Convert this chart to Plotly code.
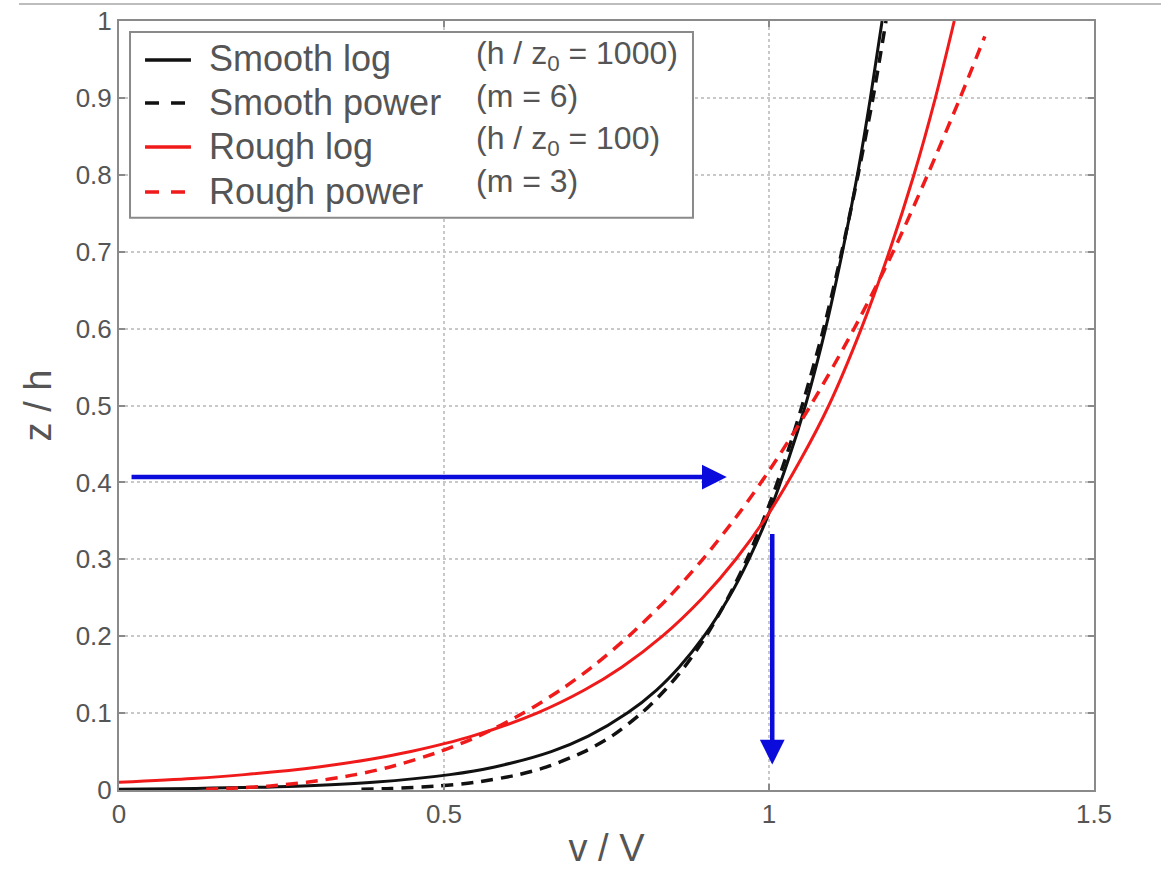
import plotly.graph_objects as go

# ---- data ----
smooth_log_x = [0.0, 0.118, 0.273, 0.391, 0.509, 0.578, 0.665, 0.722, 0.782, 0.827, 0.862, 0.900,
                0.938, 0.969, 1.000, 1.030, 1.056, 1.087, 1.113, 1.136, 1.156, 1.174]
smooth_log_y = [0.001, 0.002, 0.005, 0.01, 0.02, 0.03, 0.05, 0.07, 0.1, 0.13, 0.16, 0.2,
                0.25, 0.3, 0.36, 0.43, 0.5, 0.6, 0.7, 0.8, 0.9, 1.0]

smooth_pow_x = [0.373, 0.419, 0.488, 0.548, 0.615, 0.658, 0.716, 0.758, 0.804, 0.840, 0.870, 0.903,
                0.937, 0.966, 1.000, 1.025, 1.051, 1.084, 1.112, 1.137, 1.160, 1.180]
smooth_pow_y = [0.001, 0.002, 0.005, 0.01, 0.02, 0.03, 0.05, 0.07, 0.1, 0.13, 0.16, 0.2,
                0.25, 0.3, 0.37, 0.43, 0.5, 0.6, 0.7, 0.8, 0.9, 1.0]

rough_log_x = [0.0, 0.113, 0.193, 0.307, 0.387, 0.449, 0.543, 0.643, 0.716, 0.774, 0.836, 0.898,
               0.949, 1.000, 1.049, 1.092, 1.142, 1.185, 1.223, 1.256, 1.285]
rough_log_y = [0.01, 0.015, 0.02, 0.03, 0.04, 0.05, 0.07, 0.1, 0.13, 0.16, 0.2, 0.25,
               0.3, 0.36, 0.43, 0.5, 0.6, 0.7, 0.8, 0.9, 1.0]

rough_pow_x = [0.134, 0.169, 0.229, 0.289, 0.364, 0.417, 0.494, 0.553, 0.622, 0.679, 0.728, 0.784,
               0.845, 0.898, 0.954, 1.000, 1.064, 1.131, 1.191, 1.244, 1.294, 1.332]
rough_pow_y = [0.001, 0.002, 0.005, 0.01, 0.02, 0.03, 0.05, 0.07, 0.1, 0.13, 0.16, 0.2,
               0.25, 0.3, 0.36, 0.415, 0.5, 0.6, 0.7, 0.8, 0.9, 0.98]

series_names = ["Smooth log", "Smooth power", "Rough log", "Rough power"]
legend_notes = ["(h / z<sub>0</sub> = 1000)", "(m = 6)", "(h / z<sub>0</sub> = 100)", "(m = 3)"]

x_ticks = [0, 0.5, 1, 1.5]
x_tick_text = ["0", "0.5", "1", "1.5"]
y_ticks = [0, 0.1, 0.2, 0.3, 0.4, 0.5, 0.6, 0.7, 0.8, 0.9, 1]
y_tick_text = ["0", "0.1", "0.2", "0.3", "0.4", "0.5", "0.6", "0.7", "0.8", "0.9", "1"]

# arrows: (tail, head) in data units
h_arrow = {"tail": (0.017, 0.407), "head": (0.935, 0.407)}
v_arrow = {"tail": (1.005, 0.335), "head": (1.005, 0.033)}

FONT = "Liberation Sans, Arial, Helvetica, sans-serif"
BLACK = "#111111"
RED = "#f01a1a"
BLUE = "#0b0bdc"
AXIS = "#8a8a8a"
TXT = "#555555"

styles = [
    dict(color=BLACK, width=3),
    dict(color=BLACK, width=3.5, dash="12px,8px"),
    dict(color=RED, width=3),
    dict(color=RED, width=3.5, dash="12px,8px"),
]
xs = [smooth_log_x, smooth_pow_x, rough_log_x, rough_pow_x]
ys = [smooth_log_y, smooth_pow_y, rough_log_y, rough_pow_y]

fig = go.Figure()
for name, x, y, st in zip(series_names, xs, ys, styles):
    fig.add_trace(go.Scatter(x=x, y=y, mode="lines", name=name, showlegend=False,
                             line=dict(shape="spline", smoothing=0.8, **st)))

axis_common = dict(
    showline=True, linecolor=AXIS, linewidth=2, mirror="ticks",
    ticks="inside", ticklen=6, tickwidth=2, tickcolor=AXIS,
    showgrid=True, gridcolor="#c8c8c8", gridwidth=1.5, griddash="dot",
    zeroline=False, ticklabeloverflow="allow", automargin=False,
    tickfont=dict(family=FONT, size=26, color=TXT),
)

fig.update_xaxes(range=[0, 1.5], tickvals=x_ticks, ticktext=x_tick_text,
                 title=dict(text="v / V", font=dict(family=FONT, size=38, color=TXT), standoff=6),
                 **axis_common)
fig.update_yaxes(range=[0, 1], tickvals=y_ticks, ticktext=y_tick_text,
                 title=dict(text="z / h", font=dict(family=FONT, size=38, color=TXT), standoff=12),
                 **axis_common)

# legend box (white, gray border) that also hides the grid beneath it
fig.add_shape(type="rect", xref="paper", yref="paper", x0=0.0113, x1=0.5887, y0=0.744, y1=0.9857,
              line=dict(color=AXIS, width=2), fillcolor="white", layer="above")
# thin gray line at the very top of the picture
fig.add_shape(type="line", xref="paper", yref="paper", x0=-0.1026, x1=1.07, y0=1.0221, y1=1.0221,
              line=dict(color="#bdbdbd", width=2))

# legend entries: key line + label
key_y = [0.9493, 0.8934, 0.8362, 0.7776]
label_y = [0.9506, 0.8934, 0.8362, 0.7789]
for name, st, ky, ly in zip(series_names, styles, key_y, label_y):
    key_line = dict(color=st["color"], width=3.5)
    if "dash" in st:
        key_line["dash"] = "14px,12px"
    fig.add_shape(type="line", xref="paper", yref="paper", x0=0.0267, x1=0.0738, y0=ky, y1=ky,
                  line=key_line, layer="above")
    fig.add_annotation(text=name, xref="paper", yref="paper", x=0.0903, y=ly,
                       xanchor="left", yanchor="middle", showarrow=False,
                       font=dict(family=FONT, size=36, color=TXT))

note_y = [0.9545, 0.902, 0.844, 0.792]
for txt, yy in zip(legend_notes, note_y):
    fig.add_annotation(text=txt, xref="paper", yref="paper", x=0.364, y=yy,
                       xanchor="left", yanchor="middle", showarrow=False,
                       font=dict(family=FONT, size=32, color=TXT))

for arr in (h_arrow, v_arrow):
    fig.add_annotation(x=arr["head"][0], y=arr["head"][1], ax=arr["tail"][0], ay=arr["tail"][1],
                       xref="x", yref="y", axref="x", ayref="y", text="", showarrow=True,
                       arrowhead=2, arrowsize=1.1, arrowwidth=4.5, arrowcolor=BLUE, standoff=0)

fig.update_layout(
    width=1161, height=872,
    margin=dict(l=119, r=67, t=21, b=82, autoexpand=False),
    paper_bgcolor="white", plot_bgcolor="white",
    showlegend=False,
    font=dict(family=FONT),
)

fig.write_html("out.html",
               config={"displayModeBar": False},
               post_script="document.body.style.margin='0px';document.body.style.overflow='hidden';")
